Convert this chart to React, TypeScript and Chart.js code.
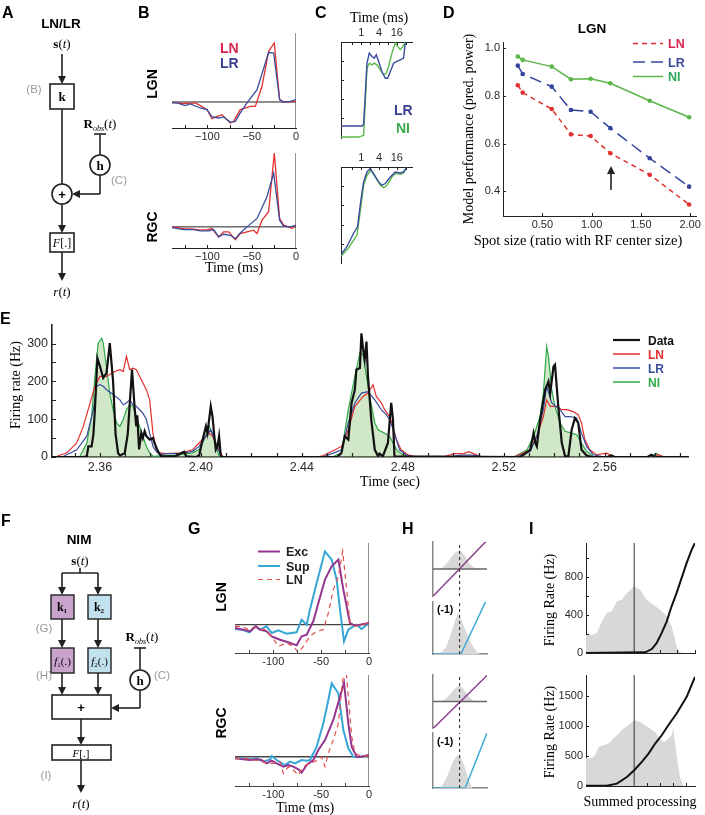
import React, { useEffect, useRef } from "react";
import { Chart, registerables } from "chart.js";

Chart.register(...registerables);

const SANS = "'Liberation Sans', Arial, Helvetica, sans-serif";
const SERIF = "'Liberation Serif', 'Times New Roman', serif";

type P = [number, number];

// ---------------- colours ----------------
const RED = "#e2312f";
const BLUE = "#3a4c9e";
const GREEN = "#2fa84a";
const CGREEN = "#5bb84a";
const EXC = "#94358f";
const SUP = "#36a6d6";
const HPUR = "#8b3f8d";
const HCYAN = "#3fa9d6";
const GREY_FILL = "#d8d8d8";

// ---------------- B: LN / LR temporal kernels ----------------
const B_TICK_LABELS = [-100, -50, 0];
const B_TICK_MARKS = [-125, -100, -75, -50, -25];
const B_LGN_LN: P[] = [[-140,-0.005],[-126.8,-0.024],[-113.7,-0.014],[-108,-0.053],[-100.5,-0.111],[-94.8,-0.242],[-89.2,-0.208],[-83.6,-0.184],[-74.1,-0.304],[-70.4,-0.28],[-62.9,-0.111],[-51.6,-0.063],[-45.9,-0.063],[-38.4,0.227],[-30.9,0.734],[-24.5,0.855],[-18.5,0.034],[-14,0],[0,0.01]];
const B_LGN_LR: P[] = [[-140,-0.014],[-134.4,-0.014],[-124.9,-0.053],[-119.3,-0.029],[-108,-0.087],[-100.5,-0.111],[-94.8,-0.217],[-87.3,-0.232],[-81.7,-0.217],[-74.1,-0.295],[-68.5,-0.28],[-62.9,-0.159],[-55.3,-0.014],[-44,0.179],[-30.9,0.717],[-25.2,0.71],[-18.5,0.034],[-14,0],[-6.4,0.01],[0,0.034]];
const B_RGC_LN: P[] = [[-140,0],[-126.8,-0.023],[-115.5,-0.032],[-108,-0.045],[-100.5,-0.036],[-94.8,-0.023],[-87.3,-0.136],[-81.7,-0.068],[-76,-0.068],[-68.5,-0.173],[-62.9,-0.091],[-55.3,-0.068],[-47.8,-0.045],[-44,-0.091],[-38.4,0.091],[-30.9,0.205],[-24.5,1.0],[-18.5,0.114],[-14,0.023],[-8.3,0],[-4.5,-0.023],[0,0.023]];
const B_RGC_LR: P[] = [[-140,-0.009],[-126.8,-0.036],[-115.5,-0.036],[-108,-0.055],[-98.6,-0.055],[-93,-0.036],[-87.3,-0.136],[-81.7,-0.1],[-74.1,-0.114],[-68.5,-0.159],[-62.9,-0.082],[-55.3,0],[-44,0.114],[-32.8,0.409],[-25.2,0.727],[-18.5,0.091],[-14,0.009],[-6.4,0],[0,0.023]];

// ---------------- C: spike-history terms (log time axis, ms) ----------------
const C_TICK_LABELS = [1, 4, 16];
const C_TICK_MARKS = [0.5, 1, 2, 4, 8, 16, 32];
const C_Y_MARKS = [0.2, 0.4, 0.6, 0.8];
const C_TOP_LR: P[] = [[0.206,0.117],[1.05,0.117],[1.2,0.134],[1.56,0.777],[1.87,0.883],[2.3,0.848],[2.75,0.83],[3.22,0.866],[3.86,0.795],[5.0,0.689],[6.5,0.618],[7.8,0.618],[9.6,0.689],[12.4,0.777],[16.1,0.795],[20.8,0.813],[26.9,0.83],[30.8,0.989],[35,1.01]];
const C_TOP_NI: P[] = [[0.206,0],[0.81,0],[1.2,0.018],[1.56,0.724],[1.87,0.777],[2.3,0.76],[2.75,0.777],[3.39,0.76],[4.39,0.707],[5.7,0.654],[7.0,0.671],[8.4,0.742],[10.9,0.883],[14.1,0.989],[16.9,0.954],[20.8,0.919],[25.7,0.954],[30.8,1.0],[35,1.0]];
const C_BOT_LR: P[] = [[0.206,0.086],[0.33,0.172],[0.55,0.31],[0.75,0.379],[0.97,0.655],[1.2,0.845],[1.56,0.948],[2.02,0.983],[2.6,0.931],[3.86,0.845],[5.0,0.81],[6.5,0.828],[9.6,0.897],[14.1,0.948],[20.8,0.938],[26.9,0.948],[35,1.0]];
const C_BOT_NI: P[] = [[0.206,0.069],[0.37,0.155],[0.72,0.293],[0.97,0.586],[1.2,0.81],[1.56,0.914],[2.13,0.966],[2.97,0.897],[4.39,0.81],[5.7,0.786],[7.4,0.81],[10.9,0.897],[14.1,0.931],[20.8,0.924],[26.9,0.938],[35,1.0]];

// ---------------- D: model performance vs spot size ----------------
const D_SPOT = [0.25, 0.30, 0.595, 0.79, 0.99, 1.19, 1.59, 1.99];
const D_LN = [0.845, 0.814, 0.745, 0.639, 0.632, 0.56, 0.47, 0.345];
const D_LR = [0.927, 0.892, 0.839, 0.741, 0.734, 0.665, 0.539, 0.42];
const D_NI = [0.965, 0.951, 0.923, 0.870, 0.872, 0.853, 0.780, 0.711];
const D_Y_LABELS = [0.4, 0.6, 0.8, 1.0];
const D_X_LABELS = [0.5, 1.0, 1.5, 2.0];

// ---------------- E: firing rate time series ----------------
const E_X_LABELS = [2.36, 2.40, 2.44, 2.48, 2.52, 2.56];
const E_X_MARKS = [2.35,2.36,2.37,2.38,2.39,2.40,2.41,2.42,2.43,2.44,2.45,2.46,2.47,2.48,2.49,2.50,2.51,2.52,2.53,2.54,2.55,2.56,2.57,2.58,2.59];
const E_Y_LABELS = [0, 100, 200, 300];
const E_Y_MARKS = [0, 50, 100, 150, 200, 250, 300];
const E_DATA: P[] = [[2.3410,0],[2.3534,0],[2.3548,2],[2.3554,28],[2.3567,28],[2.3574,60],[2.3580,125],[2.3590,261],[2.3600,240],[2.3613,209],[2.3626,222],[2.3639,301],[2.3652,200],[2.3662,60],[2.3672,10],[2.3679,4],[2.3698,10],[2.3710,60],[2.3727,231],[2.3738,125],[2.3744,81],[2.3748,110],[2.3755,20],[2.3764,63],[2.3770,50],[2.3777,68],[2.3784,55],[2.3797,46],[2.3810,50],[2.3816,37],[2.3830,15],[2.3843,2],[2.3900,2],[2.3921,10],[2.3934,14],[2.3941,2],[2.3980,0],[2.3993,4],[2.4007,46],[2.4020,81],[2.4026,63],[2.4039,134],[2.4046,107],[2.4052,63],[2.4059,19],[2.4066,28],[2.4072,55],[2.4079,2],[2.4090,0],[2.4540,0],[2.4557,11],[2.4570,55],[2.4584,46],[2.4597,143],[2.4610,178],[2.4616,231],[2.4630,235],[2.4636,327],[2.4643,283],[2.4649,257],[2.4656,305],[2.4662,213],[2.4675,99],[2.4689,19],[2.4702,2],[2.4708,9],[2.4721,2],[2.4741,37],[2.4754,143],[2.4761,99],[2.4767,2],[2.5266,0],[2.5305,19],[2.5318,63],[2.5325,37],[2.5331,28],[2.5344,99],[2.5364,178],[2.5377,200],[2.5384,169],[2.5397,239],[2.5403,244],[2.5416,134],[2.5430,37],[2.5443,2],[2.5456,2],[2.5469,72],[2.5482,103],[2.5495,90],[2.5508,19],[2.5528,4],[2.5550,0],[2.5610,0],[2.5626,4],[2.5640,0],[2.5770,0],[2.5784,6],[2.5800,0],[2.5930,0]];
const E_LN: P[] = [[2.3410,0],[2.3430,2],[2.3469,11],[2.3508,37],[2.3534,81],[2.3561,143],[2.3580,187],[2.3600,213],[2.3626,213],[2.3659,226],[2.3679,231],[2.3692,226],[2.3705,266],[2.3718,231],[2.3731,235],[2.3744,231],[2.3764,204],[2.3784,178],[2.3797,151],[2.3810,63],[2.3823,19],[2.3836,11],[2.3862,9],[2.3921,11],[2.3967,19],[2.3993,37],[2.4020,55],[2.4033,63],[2.4046,55],[2.4072,19],[2.4085,2],[2.4110,0],[2.4460,0],[2.4485,4],[2.4520,15],[2.4557,28],[2.4584,72],[2.4610,134],[2.4643,160],[2.4662,169],[2.4682,191],[2.4695,160],[2.4715,143],[2.4728,125],[2.4748,107],[2.4761,81],[2.4774,46],[2.4793,19],[2.4820,6],[2.4859,0],[2.4960,0],[2.5003,9],[2.5043,9],[2.5060,14],[2.5080,9],[2.5108,2],[2.5150,0],[2.5240,0],[2.5305,19],[2.5331,55],[2.5357,107],[2.5370,151],[2.5384,134],[2.5410,134],[2.5430,125],[2.5449,125],[2.5475,120],[2.5495,112],[2.5508,90],[2.5521,46],[2.5541,19],[2.5567,6],[2.5607,10],[2.5640,0],[2.5790,0],[2.5810,6],[2.5840,0],[2.5930,0]];
const E_LR: P[] = [[2.3410,0],[2.3456,2],[2.3508,19],[2.3548,55],[2.3574,125],[2.3587,187],[2.3600,191],[2.3613,187],[2.3626,178],[2.3652,165],[2.3679,151],[2.3692,138],[2.3705,143],[2.3718,151],[2.3731,138],[2.3744,134],[2.3757,125],[2.3770,116],[2.3784,99],[2.3797,63],[2.3810,28],[2.3823,15],[2.3836,6],[2.3862,9],[2.3921,9],[2.3967,15],[2.3993,28],[2.4020,55],[2.4039,72],[2.4059,37],[2.4079,2],[2.4100,0],[2.4480,0],[2.4520,9],[2.4557,19],[2.4584,90],[2.4610,143],[2.4636,169],[2.4662,173],[2.4689,151],[2.4715,125],[2.4734,112],[2.4748,99],[2.4767,63],[2.4787,19],[2.4813,6],[2.4840,0],[2.4980,0],[2.5030,5],[2.5080,5],[2.5120,0],[2.5250,0],[2.5305,15],[2.5331,55],[2.5357,125],[2.5370,187],[2.5390,143],[2.5423,125],[2.5443,107],[2.5462,107],[2.5489,103],[2.5508,63],[2.5528,28],[2.5554,6],[2.5600,0],[2.5930,0]];
const E_NI: P[] = [[2.3410,0],[2.3500,0],[2.3521,2],[2.3548,37],[2.3567,107],[2.3580,213],[2.3593,301],[2.3607,314],[2.3613,301],[2.3626,239],[2.3639,169],[2.3652,125],[2.3666,90],[2.3679,81],[2.3692,99],[2.3705,125],[2.3718,138],[2.3731,134],[2.3744,107],[2.3757,81],[2.3770,55],[2.3784,28],[2.3797,11],[2.3810,2],[2.3900,5],[2.3967,11],[2.3993,20],[2.4013,46],[2.4033,81],[2.4046,63],[2.4059,28],[2.4072,2],[2.4090,0],[2.4520,0],[2.4557,11],[2.4584,125],[2.4610,213],[2.4630,275],[2.4643,270],[2.4656,213],[2.4669,160],[2.4689,90],[2.4702,72],[2.4728,63],[2.4748,55],[2.4761,37],[2.4780,15],[2.4800,6],[2.4830,0],[2.5240,0],[2.5292,19],[2.5318,55],[2.5344,107],[2.5357,169],[2.5370,292],[2.5377,266],[2.5390,178],[2.5403,134],[2.5423,90],[2.5443,68],[2.5469,63],[2.5489,59],[2.5508,37],[2.5528,15],[2.5554,2],[2.5600,0],[2.5780,0],[2.5803,10],[2.5830,0],[2.5930,0]];

// ---------------- G: NIM subunit kernels ----------------
const G_TICK_LABELS = [-100, -50, 0];
const G_TICK_MARKS = [-125, -100, -75, -50, -25];
const G_LGN_EXC: P[] = [[-140,-0.041],[-131.3,-0.061],[-124.3,-0.082],[-118.1,-0.02],[-113.9,-0.061],[-106.9,-0.082],[-101.7,-0.143],[-93,-0.184],[-84.3,-0.216],[-75.6,-0.253],[-70.4,-0.143],[-65.1,-0.122],[-58.2,0.041],[-52.9,0.265],[-46,0.551],[-39,0.714],[-32,0.796],[-26.8,0.429],[-19.9,0.02],[-14.6,-0.012],[-9.4,0],[0,0.02]];
const G_LGN_SUP: P[] = [[-140,-0.053],[-133,-0.061],[-125,-0.094],[-119.1,-0.02],[-113.9,-0.061],[-106.9,-0.02],[-101.7,-0.102],[-94.7,-0.069],[-86,-0.11],[-75.6,-0.094],[-70.4,0.061],[-65.1,0],[-61.7,0.184],[-54.7,0.51],[-46,0.898],[-39,0.796],[-33.8,0.551],[-30.3,0.184],[-26.1,-0.204],[-21.6,-0.061],[-16.4,-0.02],[-12.9,0],[-7.7,-0.053],[0,0.02]];
const G_LGN_LN: P[] = [[-140,-0.02],[-133,-0.02],[-126.1,-0.061],[-119.1,-0.029],[-113.9,-0.053],[-108.7,-0.061],[-101.7,-0.143],[-94.7,-0.265],[-86,-0.224],[-79.1,-0.265],[-73.8,-0.339],[-68.6,-0.265],[-61.7,-0.143],[-54.7,-0.082],[-47.7,-0.061],[-42.5,0.143],[-37.3,0.429],[-32,0.592],[-27.5,0.898],[-25.1,0.633],[-19.9,0.02],[-14.6,-0.02],[-7.7,0],[0,0.02]];
const G_RGC_EXC: P[] = [[-140,-0.02],[-131.3,-0.033],[-124.3,-0.041],[-117.4,-0.033],[-112.2,-0.041],[-106.9,-0.082],[-101.7,-0.049],[-96.5,-0.082],[-89.5,-0.122],[-84.3,-0.102],[-79.1,-0.122],[-73.8,-0.155],[-70.4,-0.196],[-65.1,-0.102],[-58.2,-0.041],[-52.9,0.082],[-46,0.204],[-37.3,0.449],[-30.3,0.735],[-26.1,0.906],[-21.6,0.408],[-18.1,0.122],[-12.9,0],[-7.7,0],[0,0.02]];
const G_RGC_SUP: P[] = [[-140,-0.02],[-131.3,-0.02],[-122.6,-0.033],[-117.4,-0.02],[-110.4,-0.061],[-103.4,-0.033],[-101.7,0.008],[-96.5,-0.041],[-87.8,-0.102],[-82.5,-0.061],[-77.3,-0.082],[-70.4,-0.041],[-65.1,-0.049],[-61.7,-0.041],[-54.7,0.122],[-47.7,0.408],[-42.5,0.694],[-39,0.898],[-32,0.776],[-26.8,0.327],[-21.6,0.102],[-16.4,0],[-11.1,-0.008],[0,0.02]];
const G_RGC_LN: P[] = [[-140,-0.02],[-129.6,-0.02],[-120.9,-0.041],[-113.9,-0.049],[-106.9,-0.082],[-100,-0.082],[-93,-0.061],[-89.5,-0.204],[-84.3,-0.122],[-79.1,-0.163],[-73.8,-0.224],[-68.6,-0.122],[-61.7,-0.082],[-54.7,-0.049],[-49.5,0],[-46,-0.122],[-42.5,0.041],[-37.3,0.204],[-32,0.408],[-28.6,0.816],[-26.1,1.06],[-24,1.06],[-21.6,0.735],[-18.1,0.245],[-14.6,0.041],[-7.7,0],[0,0.02]];

// ---------------- H: subunit nonlinearities ----------------
const H1_DIST: P[] = [[-1,0],[-0.75,0],[-0.6,0.08],[-0.45,0.25],[-0.3,0.45],[-0.15,0.62],[0,0.69],[0.1,0.62],[0.25,0.4],[0.4,0.18],[0.55,0.05],[0.65,0],[1.03,0]];
const H1_EXC: P[] = [[-1,-1.01],[1.03,1.06]];
const H2_DIST: P[] = [[-1,0],[-0.8,0],[-0.65,0.05],[-0.5,0.14],[-0.35,0.35],[-0.2,0.59],[-0.07,0.79],[0.03,0.7],[0.15,0.55],[0.27,0.4],[0.4,0.25],[0.51,0.14],[0.65,0.04],[0.76,0],[1.03,0]];
const H2_SUP: P[] = [[-1,0],[0.05,0],[1.0,1.03]];
const H3_DIST: P[] = [[-1,0],[-0.7,0],[-0.55,0.08],[-0.35,0.29],[-0.15,0.52],[0,0.6],[0.12,0.5],[0.27,0.29],[0.4,0.12],[0.52,0.03],[0.6,0],[1.03,0]];
const H3_EXC: P[] = [[-1,-1.02],[1.03,0.98]];
const H4_DIST: P[] = [[-1,0],[-0.75,0],[-0.6,0.08],[-0.42,0.26],[-0.25,0.48],[-0.09,0.6],[0.05,0.55],[0.18,0.4],[0.3,0.2],[0.47,0],[1.03,0]];
const H4_SUP: P[] = [[-1,0],[0.21,0],[1.03,1.0]];

// ---------------- I: spiking nonlinearities ----------------
const I_TOP_CURVE: P[] = [[-2.78,0],[0.63,7],[1.02,42],[1.3,106],[1.59,212],[1.88,335],[2.16,494],[2.45,635],[2.74,794],[3.03,952],[3.32,1093],[3.51,1164]];
const I_TOP_DIST: P[] = [[-2.79,194],[-2.44,194],[-2.15,212],[-1.86,335],[-1.58,423],[-1.29,441],[-1.0,547],[-0.71,564],[-0.42,635],[0,705],[0.34,670],[0.73,564],[1.11,511],[1.49,458],[1.88,388],[2.16,282],[2.45,71],[2.64,7],[2.83,0],[3.51,0]];
const I_BOT_CURVE: P[] = [[-2.78,3],[-1.58,5],[-1.0,39],[-0.42,151],[0,263],[0.44,402],[0.83,542],[1.21,710],[1.59,849],[1.97,1017],[2.45,1212],[3.03,1492],[3.51,1827]];
const I_BOT_DIST: P[] = [[-2.79,469],[-2.44,469],[-2.25,514],[-2.05,654],[-1.76,682],[-1.48,710],[-1.19,793],[-0.9,877],[-0.61,961],[-0.33,1017],[0,1101],[0.34,1073],[0.63,1017],[0.92,961],[1.21,905],[1.49,793],[1.69,737],[1.88,765],[2.16,849],[2.26,978],[2.41,598],[2.64,151],[2.83,0],[3.51,0]];
const I_TOP_Y_LABELS = [0, 400, 800];
const I_TOP_Y_MARKS = [0, 200, 400, 600, 800, 1000];
const I_BOT_Y_LABELS = [0, 500, 1000, 1500];
const I_TOP_X_MARKS = [1.5, 2.5, 3.5];
const I_BOT_X_MARKS = [0.75, 1.5, 2.25, 3.0];

// ---------------- helpers ----------------
type Mark = { axis: "x" | "y"; side: "top" | "bottom" | "left" | "right"; values: number[]; len: number; color?: string; width?: number };

function makeDeco(marks: Mark[]) {
  return {
    id: "deco",
    afterDatasetsDraw(chart: any) {
      const { ctx, chartArea: ca, scales } = chart;
      marks.forEach((m) => {
        const sc = scales[m.axis];
        ctx.save();
        ctx.strokeStyle = m.color || "#222";
        ctx.lineWidth = m.width || 1;
        ctx.beginPath();
        m.values.forEach((v) => {
          const p = Math.round(sc.getPixelForValue(v)) + 0.5;
          if (m.side === "bottom") { ctx.moveTo(p, ca.bottom); ctx.lineTo(p, ca.bottom - m.len); }
          else if (m.side === "top") { ctx.moveTo(p, ca.top); ctx.lineTo(p, ca.top + m.len); }
          else if (m.side === "left") { ctx.moveTo(ca.left, p); ctx.lineTo(ca.left + m.len, p); }
          else { ctx.moveTo(ca.right, p); ctx.lineTo(ca.right - m.len, p); }
        });
        ctx.stroke();
        ctx.restore();
      });
    },
  };
}

// the axis box takes exactly the margin on its side, so the plot area lands where it should
function axis(o: any, size: number) {
  const labels: number[] = o.labels || [];
  return {
    type: o.type || "linear",
    position: o.pos,
    min: o.min,
    max: o.max,
    grid: { display: false, drawTicks: false },
    border: { display: !!o.border, color: o.bc || "#222", width: o.bw || 1 },
    ticks: {
      display: labels.length > 0,
      padding: o.pad ?? 2,
      autoSkip: false,
      maxRotation: 0,
      minRotation: 0,
      font: { family: SANS, size: o.fs || 11 },
      color: "#2a2a2a",
      callback: (v: number) => (o.fmt ? o.fmt(v) : String(v)),
    },
    afterBuildTicks: (s: any) => { s.ticks = labels.map((v) => ({ value: v })); },
    afterFit: (s: any) => {
      if (s.isHorizontal()) s.height = size; else s.width = size;
      s.paddingLeft = 0; s.paddingRight = 0; s.paddingTop = 0; s.paddingBottom = 0;
    },
  };
}

const ln = (data: any[], color: string, width = 1.2, extra: any = {}) => ({
  data, borderColor: color, borderWidth: width, pointRadius: 0, tension: 0, fill: false, ...extra,
});
const pts = (xs: number[], ys: number[]) => xs.map((x, i) => [x, ys[i]]);
const minus = (v: number) => (v < 0 ? "\u2212" + Math.abs(v) : String(v));

type Spec = { area: number[]; pad: number[]; x: any; y: any; datasets: () => any[]; marks?: Mark[] };

const SPECS: Spec[] = [
  // B LGN
  {
    area: [172, 33, 296, 128], pad: [6, 2, 10, 18],
    x: { min: -140, max: 0, pos: "bottom", border: true, labels: B_TICK_LABELS, fmt: minus, pad: 2 },
    y: { min: -0.377, max: 1.0, pos: "left" },
    datasets: () => [
      ln(B_LGN_LR, BLUE, 1.3), ln(B_LGN_LN, RED, 1.3),
      ln([[-140, 0], [0, 0]], "#222", 1), ln([[0, -0.377], [0, 1.0]], "#222", 1),
    ],
    marks: [{ axis: "x", side: "bottom", values: B_TICK_MARKS, len: 3 }],
  },
  // B RGC
  {
    area: [172, 153, 296, 248], pad: [6, 2, 10, 18],
    x: { min: -140, max: 0, pos: "bottom", border: true, labels: B_TICK_LABELS, fmt: minus, pad: 2 },
    y: { min: -0.286, max: 1.0, pos: "left" },
    datasets: () => [
      ln(B_RGC_LR, BLUE, 1.3), ln(B_RGC_LN, RED, 1.3),
      ln([[-140, 0], [0, 0]], "#222", 1), ln([[0, -0.286], [0, 1.0]], "#222", 1),
    ],
    marks: [{ axis: "x", side: "bottom", values: B_TICK_MARKS, len: 3 }],
  },
  // C top
  {
    area: [341, 42, 412, 138], pad: [4, 16, 4, 4],
    x: { type: "logarithmic", min: 0.206, max: 52, pos: "top", border: true, labels: C_TICK_LABELS, pad: 2 },
    y: { min: -0.01, max: 1.0, pos: "left", border: true },
    datasets: () => [ln(C_TOP_LR, BLUE, 1.4), ln(C_TOP_NI, CGREEN, 1.4)],
    marks: [
      { axis: "x", side: "top", values: C_TICK_MARKS, len: 3 },
      { axis: "y", side: "left", values: C_Y_MARKS, len: 3 },
    ],
  },
  // C bottom
  {
    area: [341, 167, 412, 263], pad: [4, 16, 4, 4],
    x: { type: "logarithmic", min: 0.206, max: 52, pos: "top", border: true, labels: C_TICK_LABELS, pad: 2 },
    y: { min: 0, max: 1.0, pos: "left", border: true },
    datasets: () => [ln(C_BOT_LR, BLUE, 1.4), ln(C_BOT_NI, CGREEN, 1.4)],
    marks: [
      { axis: "x", side: "top", values: C_TICK_MARKS, len: 3 },
      { axis: "y", side: "left", values: C_Y_MARKS, len: 3 },
    ],
  },
  // D
  {
    area: [503, 42, 696, 216], pad: [30, 6, 8, 18],
    x: { min: 0.1, max: 2.06, pos: "bottom", border: true, labels: D_X_LABELS, fmt: (v: number) => v.toFixed(2), pad: 2 },
    y: { min: 0.297, max: 1.026, pos: "left", border: true, labels: D_Y_LABELS, fmt: (v: number) => v.toFixed(1), pad: 3 },
    datasets: () => [
      ln(pts(D_SPOT, D_NI), "#5cb548", 1.5, { pointRadius: 2.3, pointBackgroundColor: "#5cb548", pointBorderWidth: 0 }),
      ln(pts(D_SPOT, D_LR), "#34449c", 1.5, { borderDash: [12, 6], pointRadius: 2.3, pointBackgroundColor: "#34449c", pointBorderWidth: 0 }),
      ln(pts(D_SPOT, D_LN), RED, 1.5, { borderDash: [5, 4], pointRadius: 2.3, pointBackgroundColor: RED, pointBorderWidth: 0 }),
    ],
    marks: [
      { axis: "x", side: "bottom", values: D_X_LABELS, len: 3 },
      { axis: "y", side: "left", values: D_Y_LABELS, len: 3 },
    ],
  },
  // E
  {
    area: [52, 325, 688, 457], pad: [36, 4, 10, 20],
    x: { min: 2.341, max: 2.593, pos: "bottom", border: true, bw: 1.6, labels: E_X_LABELS, fmt: (v: number) => v.toFixed(2), pad: 3, fs: 12.5 },
    y: { min: 0, max: 349, pos: "left", border: true, bw: 1.6, labels: E_Y_LABELS, pad: 4, fs: 12.5 },
    datasets: () => [
      ln(E_DATA, "#111", 2.2),
      ln(E_LR, BLUE, 1.2),
      ln(E_LN, RED, 1.2),
      ln(E_NI, GREEN, 1.2, { fill: "origin", backgroundColor: "rgba(150,205,130,0.45)" }),
    ],
    marks: [
      { axis: "x", side: "bottom", values: E_X_MARKS, len: 4, width: 1.2 },
      { axis: "y", side: "left", values: E_Y_MARKS, len: 4, width: 1.2 },
    ],
  },
  // G LGN
  {
    area: [235, 543, 369, 653], pad: [6, 2, 10, 16],
    x: { min: -140, max: 0, pos: "bottom", border: true, bc: "#444", labels: G_TICK_LABELS, pad: 2 },
    y: { min: -0.347, max: 1.0, pos: "left" },
    datasets: () => [
      ln(G_LGN_LN, "#e35050", 1.2, { borderDash: [5, 4] }),
      ln(G_LGN_EXC, EXC, 2.0),
      ln(G_LGN_SUP, SUP, 2.0),
      ln([[-140, 0], [0, 0]], "#444", 1.4), ln([[0, -0.347], [0, 1.0]], "#444", 1.2),
    ],
    marks: [{ axis: "x", side: "bottom", values: G_TICK_MARKS, len: 3, color: "#444" }],
  },
  // G RGC
  {
    area: [235, 675, 369, 786], pad: [6, 2, 10, 16],
    x: { min: -140, max: 0, pos: "bottom", border: true, bc: "#444", labels: G_TICK_LABELS, pad: 2 },
    y: { min: -0.359, max: 1.0, pos: "left" },
    datasets: () => [
      ln(G_RGC_LN, "#e35050", 1.2, { borderDash: [5, 4] }),
      ln(G_RGC_EXC, EXC, 2.0),
      ln(G_RGC_SUP, SUP, 2.0),
      ln([[-140, 0], [0, 0]], "#444", 1.4), ln([[0, -0.359], [0, 1.0]], "#444", 1.2),
    ],
    marks: [{ axis: "x", side: "bottom", values: G_TICK_MARKS, len: 3, color: "#444" }],
  },
  // H1
  {
    area: [433, 542, 487, 596], pad: [2, 2, 2, 2],
    x: { min: -1, max: 1.03, pos: "bottom" },
    y: { min: -1, max: 1, pos: "left", border: true, bc: "#888", bw: 1.5 },
    datasets: () => [
      ln([[0, -1], [0, 1]], "#222", 1, { borderDash: [3, 3] }),
      ln(H1_EXC, HPUR, 1.5),
      ln([[-1, 0], [1.03, 0]], "#666", 1.5),
      ln(H1_DIST, "rgba(0,0,0,0)", 0, { fill: "origin", backgroundColor: GREY_FILL }),
    ],
  },
  // H2
  {
    area: [433, 602, 487, 654], pad: [2, 2, 2, 2],
    x: { min: -1, max: 1.03, pos: "bottom", border: true, bc: "#888", bw: 1.5 },
    y: { min: 0, max: 1, pos: "left", border: true, bc: "#888", bw: 1.5 },
    datasets: () => [
      ln([[0, 0], [0, 1]], "#222", 1, { borderDash: [3, 3] }),
      ln(H2_SUP, HCYAN, 1.5),
      ln(H2_DIST, "rgba(0,0,0,0)", 0, { fill: "origin", backgroundColor: GREY_FILL }),
    ],
  },
  // H3
  {
    area: [433, 675, 487, 728], pad: [2, 2, 2, 2],
    x: { min: -1, max: 1.03, pos: "bottom" },
    y: { min: -1, max: 1, pos: "left", border: true, bc: "#888", bw: 1.5 },
    datasets: () => [
      ln([[0, -1], [0, 1]], "#222", 1, { borderDash: [3, 3] }),
      ln(H3_EXC, HPUR, 1.5),
      ln([[-1, 0], [1.03, 0]], "#666", 1.5),
      ln(H3_DIST, "rgba(0,0,0,0)", 0, { fill: "origin", backgroundColor: GREY_FILL }),
    ],
  },
  // H4
  {
    area: [433, 733, 487, 788], pad: [2, 2, 2, 2],
    x: { min: -1, max: 1.03, pos: "bottom", border: true, bc: "#888", bw: 1.5 },
    y: { min: 0, max: 1, pos: "left", border: true, bc: "#888", bw: 1.5 },
    datasets: () => [
      ln([[0, 0], [0, 1]], "#222", 1, { borderDash: [3, 3] }),
      ln(H4_SUP, HCYAN, 1.5),
      ln(H4_DIST, "rgba(0,0,0,0)", 0, { fill: "origin", backgroundColor: GREY_FILL }),
    ],
  },
  // I top
  {
    area: [586, 543, 695, 653], pad: [32, 4, 6, 4],
    x: { min: -2.78, max: 3.51, pos: "bottom", border: true },
    y: { min: 0, max: 1163, pos: "left", border: true, labels: I_TOP_Y_LABELS, pad: 3 },
    datasets: () => [
      ln(I_TOP_CURVE, "#111", 2.0),
      ln([[0, 0], [0, 1163]], "#333", 1),
      ln(I_TOP_DIST, "rgba(0,0,0,0)", 0, { fill: "origin", backgroundColor: GREY_FILL }),
    ],
    marks: [
      { axis: "y", side: "left", values: I_TOP_Y_MARKS, len: 3 },
      { axis: "x", side: "bottom", values: I_TOP_X_MARKS, len: 3 },
    ],
  },
  // I bottom
  {
    area: [586, 675, 695, 786], pad: [32, 4, 6, 4],
    x: { min: -2.78, max: 3.51, pos: "bottom", border: true },
    y: { min: 0, max: 1857, pos: "left", border: true, labels: I_BOT_Y_LABELS, pad: 3 },
    datasets: () => [
      ln(I_BOT_CURVE, "#111", 2.0),
      ln([[0, 0], [0, 1857]], "#333", 1),
      ln(I_BOT_DIST, "rgba(0,0,0,0)", 0, { fill: "origin", backgroundColor: GREY_FILL }),
    ],
    marks: [
      { axis: "y", side: "left", values: I_BOT_Y_LABELS, len: 3 },
      { axis: "x", side: "bottom", values: I_BOT_X_MARKS, len: 3 },
    ],
  },
];

function buildConfig(s: Spec): any {
  const [pl, pt, pr, pb] = s.pad;
  const xSide = s.x.pos === "top" ? "top" : "bottom";
  const xSize = xSide === "top" ? pt : pb;
  const padding = {
    left: 0,
    right: pr,
    top: xSide === "top" ? 0 : pt,
    bottom: xSide === "bottom" ? 0 : pb,
  };
  return {
    type: "line",
    data: { datasets: s.datasets() },
    options: {
      responsive: false,
      animation: false,
      events: [],
      layout: { padding, autoPadding: false },
      plugins: { legend: { display: false }, tooltip: { enabled: false } },
      scales: { x: axis(s.x, xSize), y: axis(s.y, pl) },
    },
    plugins: [makeDeco(s.marks || [])],
  };
}

// ---------------- SVG overlay (diagrams, titles, legends) ----------------
const INK = "#222";

function Arrow({ x1, y1, x2, y2 }: { x1: number; y1: number; x2: number; y2: number }) {
  const dx = x2 - x1, dy = y2 - y1;
  const L = Math.hypot(dx, dy);
  const ux = dx / L, uy = dy / L;
  const hl = 8, hw = 4;
  const bx = x2 - ux * hl, by = y2 - uy * hl;
  return (
    <g>
      <line x1={x1} y1={y1} x2={bx} y2={by} stroke={INK} strokeWidth={1.6} />
      <polygon points={`${x2},${y2} ${bx - uy * hw},${by + ux * hw} ${bx + uy * hw},${by - ux * hw}`} fill={INK} />
    </g>
  );
}

const Letter = ({ x, y, c }: { x: number; y: number; c: string }) => (
  <text x={x} y={y} fontFamily={SANS} fontWeight="bold" fontSize={16}>{c}</text>
);
const Grey = ({ x, y, c }: { x: number; y: number; c: string }) => (
  <text x={x} y={y} fontFamily={SANS} fontSize={11.5} fill="#9a9a9a" textAnchor="middle">{c}</text>
);
const VText = ({ x, y, c, bold, serif, size }: any) => (
  <text transform={`translate(${x},${y}) rotate(-90)`} textAnchor="middle" dominantBaseline="middle"
    fontFamily={serif ? SERIF : SANS} fontWeight={bold ? "bold" : "normal"} fontSize={size || 14}>{c}</text>
);
const Sx = ({ x, y }: { x: number; y: number }) => (
  <text x={x} y={y} textAnchor="middle" fontFamily={SERIF} fontSize={13}>
    <tspan fontWeight="bold">s</tspan>(<tspan fontStyle="italic">t</tspan>)
  </text>
);
const Robs = ({ x, y }: { x: number; y: number }) => (
  <text x={x} y={y} textAnchor="middle" fontFamily={SERIF} fontSize={13}>
    <tspan fontWeight="bold">R</tspan><tspan fontSize={8} fontStyle="italic" dy={3}>obs</tspan><tspan dy={-3}>(</tspan><tspan fontStyle="italic">t</tspan>)
  </text>
);
const Rt = ({ x, y }: { x: number; y: number }) => (
  <text x={x} y={y} textAnchor="middle" fontFamily={SERIF} fontSize={13}>
    <tspan fontStyle="italic">r</tspan>(<tspan fontStyle="italic">t</tspan>)
  </text>
);
const Circ = ({ cx, cy, c }: { cx: number; cy: number; c: string }) => (
  <g>
    <circle cx={cx} cy={cy} r={10} fill="#fff" stroke={INK} strokeWidth={1.6} />
    <text x={cx} y={cy + 4.5} textAnchor="middle" fontFamily={c === "+" ? SANS : SERIF} fontWeight="bold" fontSize={13}>{c}</text>
  </g>
);

function Overlay() {
  return (
    <svg width={705} height={815} style={{ position: "absolute", left: 0, top: 0, pointerEvents: "none" }}>
      {/* panel letters */}
      <Letter x={2} y={18} c="A" />
      <Letter x={138} y={18} c="B" />
      <Letter x={315} y={18} c="C" />
      <Letter x={443} y={18} c="D" />
      <Letter x={0} y={324} c="E" />
      <Letter x={1} y={526} c="F" />
      <Letter x={188} y={534} c="G" />
      <Letter x={402} y={534} c="H" />
      <Letter x={529} y={534} c="I" />

      {/* ---- A diagram ---- */}
      <text x={61} y={28} textAnchor="middle" fontFamily={SANS} fontWeight="bold" fontSize={13.5}>LN/LR</text>
      <Sx x={62} y={48} />
      <Arrow x1={62} y1={54} x2={62} y2={84} />
      <rect x={50} y={84} width={24} height={25} fill="#fff" stroke={INK} strokeWidth={1.6} />
      <text x={62} y={101} textAnchor="middle" fontFamily={SERIF} fontWeight="bold" fontSize={13}>k</text>
      <Grey x={34} y={93} c="(B)" />
      <line x1={62} y1={109} x2={62} y2={184} stroke={INK} strokeWidth={1.6} />
      <Circ cx={62} cy={194} c="+" />
      <Robs x={100} y={128} />
      <line x1={94} y1={134} x2={106} y2={134} stroke={INK} strokeWidth={1.6} />
      <line x1={100} y1={134} x2={100} y2={155} stroke={INK} strokeWidth={1.6} />
      <Circ cx={100} cy={165} c="h" />
      <Grey x={119} y={184} c="(C)" />
      <line x1={100} y1={175} x2={100} y2={194} stroke={INK} strokeWidth={1.6} />
      <Arrow x1={100} y1={194} x2={72} y2={194} />
      <Arrow x1={62} y1={204} x2={62} y2={233} />
      <rect x={50} y={233} width={24} height={19} fill="#fff" stroke={INK} strokeWidth={1.6} />
      <text x={62} y={247} textAnchor="middle" fontFamily={SERIF} fontSize={12}><tspan fontStyle="italic">F</tspan>[.]</text>
      <Arrow x1={62} y1={252} x2={62} y2={281} />
      <Rt x={62} y={296} />

      {/* ---- B labels ---- */}
      <VText x={153} y={84} c="LGN" bold />
      <VText x={153} y={227} c="RGC" bold />
      <text x={220} y={53} fontFamily={SANS} fontWeight="bold" fontSize={14} fill="#d9254f">LN</text>
      <text x={220} y={68} fontFamily={SANS} fontWeight="bold" fontSize={14} fill="#3b3f92">LR</text>
      <text x={234} y={272} textAnchor="middle" fontFamily={SERIF} fontSize={14}>Time (ms)</text>

      {/* ---- C labels ---- */}
      <text x={379} y={22} textAnchor="middle" fontFamily={SERIF} fontSize={14}>Time (ms)</text>
      <text x={394} y={115} fontFamily={SANS} fontWeight="bold" fontSize={14} fill="#3b3f92">LR</text>
      <text x={396} y={133} fontFamily={SANS} fontWeight="bold" fontSize={14} fill="#3cab4a">NI</text>

      {/* ---- D labels ---- */}
      <text x={592} y={33} textAnchor="middle" fontFamily={SANS} fontWeight="bold" fontSize={13.5}>LGN</text>
      <VText x={470} y={129} c="Model performance (pred. power)" serif size={14} />
      <text x={578} y={245} textAnchor="middle" fontFamily={SERIF} fontSize={14.5}>Spot size (ratio with RF center size)</text>
      <line x1={633} y1={43.5} x2={663} y2={43.5} stroke={RED} strokeWidth={1.5} strokeDasharray="5 4" />
      <line x1={633} y1={62} x2={663} y2={62} stroke="#34449c" strokeWidth={1.5} strokeDasharray="12 6" />
      <line x1={633} y1={76.5} x2={663} y2={76.5} stroke="#5cb548" strokeWidth={1.5} />
      <text x={668} y={48} fontFamily={SANS} fontWeight="bold" fontSize={12.5} fill="#d9254f">LN</text>
      <text x={668} y={66.5} fontFamily={SANS} fontWeight="bold" fontSize={12.5} fill="#3a4a9a">LR</text>
      <text x={668} y={81} fontFamily={SANS} fontWeight="bold" fontSize={12.5} fill="#2fa85a">NI</text>
      <Arrow x1={611} y1={190} x2={611} y2={166} />

      {/* ---- E labels ---- */}
      <VText x={17} y={385} c="Firing rate (Hz)" serif size={14} />
      <text x={390} y={486} textAnchor="middle" fontFamily={SERIF} fontSize={14}>Time (sec)</text>
      <line x1={613} y1={340} x2={640} y2={340} stroke="#111" strokeWidth={2.2} />
      <line x1={613} y1={354} x2={640} y2={354} stroke={RED} strokeWidth={1.5} />
      <line x1={613} y1={368} x2={640} y2={368} stroke={BLUE} strokeWidth={1.5} />
      <line x1={613} y1={382} x2={640} y2={382} stroke={GREEN} strokeWidth={1.5} />
      <text x={648} y={344.5} fontFamily={SANS} fontWeight="bold" fontSize={12} fill="#111">Data</text>
      <text x={648} y={358.5} fontFamily={SANS} fontWeight="bold" fontSize={12} fill={RED}>LN</text>
      <text x={648} y={372.5} fontFamily={SANS} fontWeight="bold" fontSize={12} fill={BLUE}>LR</text>
      <text x={648} y={386.5} fontFamily={SANS} fontWeight="bold" fontSize={12} fill={GREEN}>NI</text>

      {/* ---- F diagram ---- */}
      <text x={79} y={544} textAnchor="middle" fontFamily={SANS} fontWeight="bold" fontSize={13.5}>NIM</text>
      <Sx x={80} y={565} />
      <line x1={80} y1={568} x2={80} y2={573} stroke={INK} strokeWidth={1.6} />
      <line x1={62} y1={573} x2={98} y2={573} stroke={INK} strokeWidth={1.6} />
      <Arrow x1={62} y1={573} x2={62} y2={595} />
      <Arrow x1={98} y1={573} x2={98} y2={595} />
      <rect x={51} y={595} width={23} height={24} fill="#c9a3cb" stroke={INK} strokeWidth={1.4} />
      <rect x={88} y={595} width={23} height={24} fill="#c2e1ee" stroke={INK} strokeWidth={1.4} />
      <text x={62} y={611} textAnchor="middle" fontFamily={SERIF} fontWeight="bold" fontSize={12}>k<tspan fontSize={7} dy={2}>1</tspan></text>
      <text x={99} y={611} textAnchor="middle" fontFamily={SERIF} fontWeight="bold" fontSize={12}>k<tspan fontSize={7} dy={2}>2</tspan></text>
      <Grey x={44} y={632} c="(G)" />
      <Arrow x1={62} y1={619} x2={62} y2={648} />
      <Arrow x1={98} y1={619} x2={98} y2={648} />
      <rect x={51} y={648} width={23} height={25} fill="#c9a3cb" stroke={INK} strokeWidth={1.4} />
      <rect x={88} y={648} width={23} height={25} fill="#c2e1ee" stroke={INK} strokeWidth={1.4} />
      <text x={62.5} y={665} textAnchor="middle" fontFamily={SERIF} fontSize={11}><tspan fontStyle="italic">f</tspan><tspan fontSize={7} dy={2}>1</tspan><tspan dy={-2}>(.)</tspan></text>
      <text x={99.5} y={665} textAnchor="middle" fontFamily={SERIF} fontSize={11}><tspan fontStyle="italic">f</tspan><tspan fontSize={7} dy={2}>2</tspan><tspan dy={-2}>(.)</tspan></text>
      <Grey x={44} y={679} c="(H)" />
      <Arrow x1={62} y1={673} x2={62} y2={695} />
      <Arrow x1={98} y1={673} x2={98} y2={695} />
      <rect x={52} y={695} width={59} height={24} fill="#fff" stroke={INK} strokeWidth={1.6} />
      <text x={81} y={712} textAnchor="middle" fontFamily={SANS} fontWeight="bold" fontSize={13}>+</text>
      <Robs x={142} y={641} />
      <line x1={134} y1={648} x2={146} y2={648} stroke={INK} strokeWidth={1.6} />
      <line x1={140} y1={648} x2={140} y2={670} stroke={INK} strokeWidth={1.6} />
      <Circ cx={140} cy={680} c="h" />
      <Grey x={162} y={679} c="(C)" />
      <line x1={140} y1={690} x2={140} y2={708} stroke={INK} strokeWidth={1.6} />
      <Arrow x1={140} y1={708} x2={111} y2={708} />
      <Arrow x1={81} y1={719} x2={81} y2={745} />
      <rect x={52} y={745} width={59} height={15} fill="#fff" stroke={INK} strokeWidth={1.6} />
      <text x={81} y={757} textAnchor="middle" fontFamily={SERIF} fontSize={11}><tspan fontStyle="italic">F</tspan>[.]</text>
      <Grey x={46} y={779} c="(I)" />
      <Arrow x1={81} y1={760} x2={81} y2={793} />
      <Rt x={81} y={808} />

      {/* ---- G labels ---- */}
      <VText x={222} y={597} c="LGN" bold />
      <VText x={222} y={723} c="RGC" bold />
      <line x1={258} y1={551.5} x2={280} y2={551.5} stroke={EXC} strokeWidth={2} />
      <line x1={258} y1={566} x2={280} y2={566} stroke={SUP} strokeWidth={2} />
      <line x1={258} y1={579.5} x2={280} y2={579.5} stroke="#e35050" strokeWidth={1.2} strokeDasharray="5 4" />
      <text x={286} y={556} fontFamily={SANS} fontWeight="bold" fontSize={12.5} fill="#222">Exc</text>
      <text x={286} y={570.5} fontFamily={SANS} fontWeight="bold" fontSize={12.5} fill="#222">Sup</text>
      <text x={286} y={584} fontFamily={SANS} fontWeight="bold" fontSize={12.5} fill="#222">LN</text>
      <text x={305} y={812} textAnchor="middle" fontFamily={SERIF} fontSize={14}>Time (ms)</text>

      {/* ---- H labels ---- */}
      <text x={437} y={613} fontFamily={SANS} fontWeight="bold" fontSize={10.5}>(-1)</text>
      <text x={437} y={745} fontFamily={SANS} fontWeight="bold" fontSize={10.5}>(-1)</text>

      {/* ---- I labels ---- */}
      <VText x={551} y={600} c="Firing Rate (Hz)" serif size={14} />
      <VText x={551} y={732} c="Firing Rate (Hz)" serif size={14} />
      <text x={640} y={806} textAnchor="middle" fontFamily={SERIF} fontSize={14}>Summed processing</text>
    </svg>
  );
}

export default function App() {
  const refs = useRef<(HTMLCanvasElement | null)[]>([]);
  useEffect(() => {
    const charts = SPECS.map((s, i) => new Chart(refs.current[i] as HTMLCanvasElement, buildConfig(s)));
    return () => charts.forEach((c) => c.destroy());
  }, []);
  return (
    <div style={{ position: "absolute", left: 0, top: 0, width: 705, height: 815, background: "#fff", overflow: "hidden" }}>
      {SPECS.map((s, i) => {
        const [l, t, r, b] = s.area;
        const [pl, pt, pr, pb] = s.pad;
        const w = r - l + pl + pr;
        const h = b - t + pt + pb;
        return (
          <canvas
            key={i}
            ref={(el) => { refs.current[i] = el; }}
            width={w}
            height={h}
            style={{ position: "absolute", left: l - pl, top: t - pt, width: w, height: h }}
          />
        );
      })}
      <Overlay />
    </div>
  );
}
